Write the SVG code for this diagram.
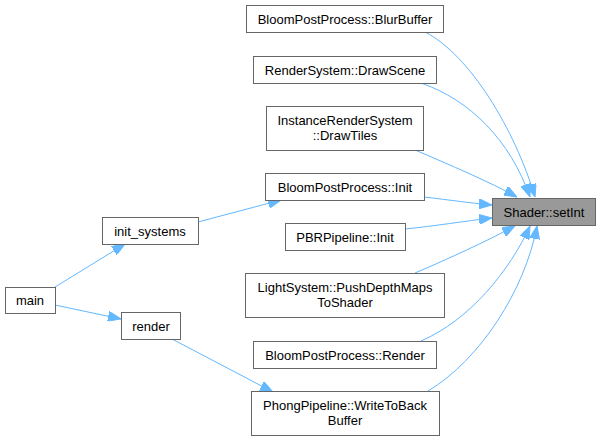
<svg xmlns="http://www.w3.org/2000/svg" width="600" height="440" viewBox="0 0 600 440">
<defs>
<style>
.node rect{fill:#ffffff;stroke:#666666;stroke-width:1}
.node.hl rect{fill:#999999}
.node text{font-family:"Liberation Sans",Arial,Helvetica,sans-serif;font-size:13px;fill:#000000;text-anchor:middle}
.edges path{fill:none;stroke:#63b8ff;stroke-width:1;marker-end:url(#ah)}
</style>
<marker id="ah" viewBox="0 0 13 10" refX="13" refY="5" markerWidth="13" markerHeight="10" markerUnits="userSpaceOnUse" orient="auto">
<path d="M0,0 L13,5 L0,10 z" fill="#63b8ff" stroke="#63b8ff" stroke-width="1"/>
</marker>
</defs>
<rect width="600" height="440" fill="#ffffff"/>
<g class="edges">
<path d="M425,32 C470,55 515,130 535,197"/>
<path d="M421,83 C470,100 510,140 530,197"/>
<path d="M415,150 C450,165 490,182 517,197"/>
<path d="M424,197 C450,200 470,203 492,205"/>
<path d="M405,229 C435,226 465,221 492,218"/>
<path d="M415,273 C450,258 485,242 515,226"/>
<path d="M421,341 C470,320 510,270 530,226"/>
<path d="M428,391 C480,360 525,290 537,226"/>
<path d="M198,222 L281,200"/>
<path d="M55,287 L125,244"/>
<path d="M55,305 L121,319"/>
<path d="M172,339 L273,392"/>
</g>
<g id="n_setint" class="node hl"><rect x="492.5" y="198.5" width="103" height="27"/><text x="544" y="216.5">Shader::setInt</text></g>
<g id="n_blurbuffer" class="node"><rect x="246.5" y="5.5" width="197" height="27"/><text x="345" y="23.5">BloomPostProcess::BlurBuffer</text></g>
<g id="n_drawscene" class="node"><rect x="253.5" y="56.5" width="183" height="27"/><text x="345" y="74.5">RenderSystem::DrawScene</text></g>
<g id="n_drawtiles" class="node"><rect x="266.5" y="106.5" width="157" height="44"/><text x="345" y="125">InstanceRenderSystem</text><text x="345" y="140">::DrawTiles</text></g>
<g id="n_bloominit" class="node"><rect x="265.5" y="173.5" width="159" height="27"/><text x="345" y="191.5">BloomPostProcess::Init</text></g>
<g id="n_pbrinit" class="node"><rect x="285.5" y="223.5" width="120" height="27"/><text x="345" y="241.5">PBRPipeline::Init</text></g>
<g id="n_lightsystem" class="node"><rect x="245.5" y="273.5" width="199" height="44"/><text x="345" y="292">LightSystem::PushDepthMaps</text><text x="345" y="307">ToShader</text></g>
<g id="n_bloomrender" class="node"><rect x="253.5" y="341.5" width="183" height="27"/><text x="345" y="359.5">BloomPostProcess::Render</text></g>
<g id="n_phong" class="node"><rect x="251.5" y="391.5" width="188" height="44"/><text x="345" y="410">PhongPipeline::WriteToBack</text><text x="345" y="425">Buffer</text></g>
<g id="n_initsystems" class="node"><rect x="102.5" y="217.5" width="96" height="27"/><text x="150" y="235.5">init_systems</text></g>
<g id="n_main" class="node"><rect x="5.5" y="287.5" width="50" height="26"/><text x="30" y="305">main</text></g>
<g id="n_render" class="node"><rect x="121.5" y="312.5" width="59" height="27"/><text x="151" y="330.5">render</text></g>
</svg>
